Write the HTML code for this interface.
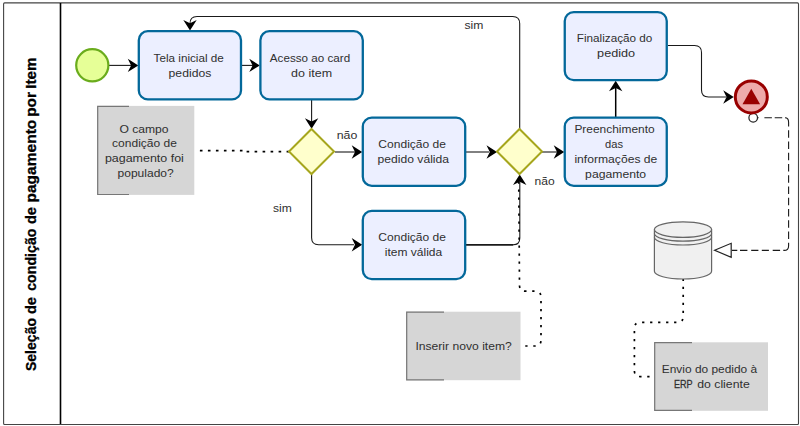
<!DOCTYPE html>
<html lang="pt-BR">
<head>
<meta charset="utf-8">
<title>Seleção de condição de pagamento por Item</title>
<style>
html,body{margin:0;padding:0;background:#fff;}
body{width:800px;height:426px;overflow:hidden;}
svg{display:block;}
text{font-family:"Liberation Sans",sans-serif;fill:#303030;}
.t{font-size:11px;text-anchor:start;}
.task{fill:#ECEFFF;stroke:#03689A;stroke-width:2.3;}
.gw{fill:#FFFFCC;stroke:#A6A61D;stroke-width:2;stroke-linejoin:miter;}
.flow{fill:none;stroke:#1a1a1a;stroke-width:1.1;}
.flowb{fill:none;stroke:#000;stroke-width:1.5;}
.assoc{fill:none;stroke:#000;stroke-width:1.7;stroke-dasharray:2.3 5.7;}
.msg{fill:none;stroke:#1a1a1a;stroke-width:1.1;}
.ann{fill:#D6D6D6;}
.br{fill:none;stroke:#777;stroke-width:1.2;}
.ah{fill:#000;}
</style>
</head>
<body>
<svg width="800" height="426" viewBox="0 0 800 426">
<rect x="0" y="0" width="800" height="426" fill="#fff"/>
<!-- pool -->
<rect x="3.6" y="2.9" width="794.9" height="421.6" fill="#fff" stroke="#444" stroke-width="1.1" rx="1"/>
<line x1="60.5" y1="3" x2="60.5" y2="424" stroke="#000" stroke-width="1.6"/>
<text transform="translate(36,0) rotate(-90)" y="0" font-size="14.3" font-weight="bold" style="fill:#000;stroke:#000;stroke-width:0.3"><tspan x="-371.1" textLength="53.2" lengthAdjust="spacingAndGlyphs">Seleção</tspan> <tspan x="-314.1" textLength="17.1" lengthAdjust="spacingAndGlyphs">de</tspan> <tspan x="-290.8" textLength="62.3" lengthAdjust="spacingAndGlyphs">condição</tspan> <tspan x="-224.1" textLength="17.1" lengthAdjust="spacingAndGlyphs">de</tspan> <tspan x="-202.5" textLength="82.8" lengthAdjust="spacingAndGlyphs">pagamento</tspan> <tspan x="-116.8" textLength="24.8" lengthAdjust="spacingAndGlyphs">por</tspan> <tspan x="-88.8" textLength="31.2" lengthAdjust="spacingAndGlyphs">Item</tspan></text>

<!-- sequence flows -->
<path class="flow" d="M109 65.4 H131"/>
<path class="ah" d="M138.3 65.4 L127.8 58.7 L131.1 65.4 L127.8 72.1 Z"/>
<path class="flow" d="M242 65.4 H253"/>
<path class="ah" d="M259.8 65.4 L249.3 58.7 L252.6 65.4 L249.3 72.1 Z"/>
<path class="flow" d="M311.6 100 V122"/>
<path class="ah" d="M311.6 128.8 L304.9 118.3 L311.6 121.6 L318.3 118.3 Z"/>
<path class="flow" d="M335 152 H355"/>
<path class="ah" d="M362.2 152 L351.7 145.3 L355 152 L351.7 158.7 Z"/>
<path class="flow" d="M466 152 H489"/>
<path class="ah" d="M497 152 L486.5 145.3 L489.8 152 L486.5 158.7 Z"/>
<path class="flow" d="M542 152 H557"/>
<path class="ah" d="M564.2 152 L553.7 145.3 L557 152 L553.7 158.7 Z"/>
<path class="flowb" d="M615.7 117 V88"/>
<path class="ah" d="M615.7 80.8 L609 91.3 L615.7 88 L622.4 91.3 Z"/>
<path class="flow" d="M668 45.5 H694.5 Q701.5 45.5 701.5 52.5 V90 Q701.5 97 708.5 97 H726"/>
<path class="ah" d="M733.7 97 L723.2 90.3 L726.5 97 L723.2 103.7 Z"/>
<path class="flow" d="M519.7 129 V23.5 Q519.7 16.5 512.7 16.5 H197 Q190 16.5 190 23.5 V24"/>
<path class="ah" d="M190 30.5 L183.3 20 L190 23.3 L196.7 20 Z"/>
<path class="flow" d="M311.6 174 V237.7 Q311.6 244.7 318.6 244.7 H354"/>
<path class="ah" d="M362.2 244.7 L351.7 238 L355 244.7 L351.7 251.4 Z"/>
<path class="flow" d="M513 244.7 Q519.8 244.7 519.8 237.9 V182"/>
<path class="flow" style="stroke-width:1.7" d="M466 244.8 H513.2"/>
<path class="ah" d="M519.7 174.5 L513 185 L519.7 181.7 L526.4 185 Z"/>
<!-- associations -->
<path class="assoc" style="stroke-dasharray:2.6 5.4" d="M289.2 151.6 H246 M242.5 150.6 H199"/>
<path class="assoc" stroke-dashoffset="3.6" d="M518.7 177 L519.5 285.2 Q519.5 291.2 525.5 291.2 H535 Q541 291.2 541 297.2 V340 Q541 346 535 346 H521"/>
<path class="assoc" d="M683.2 278.7 V316.4 Q683.2 322.4 677.2 322.4 H640.4 Q634.4 322.4 634.4 328.4 V370.6 Q634.4 376.6 640.4 376.6 H654"/>
<!-- message flow -->
<path class="msg" d="M757.6 117.7 H758.6 M764.4 117.7 H771.9 M774.7 117.7 H782.2 M785 117.7 Q788.6 117.7 788.6 122.2 V126.5 M788.6 130.3 V137.8 M788.6 141.55 V149.05 M788.6 152.8 V160.3 M788.6 164.05 V171.55 M788.6 175.3 V182.8 M788.6 186.55 V194.05 M788.6 197.8 V205.3 M788.6 209.05 V216.55 M788.6 220.3 V227.8 M788.6 231.55 V239.05 M788.6 242.8 V245.9 Q788.6 250.4 784.1 250.4 H783.3 M780.1 250.4 H772.7 M768.9 250.4 H761.8 M758.4 250.4 H751.2 M747.4 250.4 H740 M737.3 250.4 H731.8"/>
<circle cx="753.2" cy="117.8" r="4.3" fill="#fff" stroke="#222" stroke-width="1.2"/>
<path d="M714.6 250.3 L731.2 243.3 V257.3 Z" fill="#fff" stroke="#222" stroke-width="1.2"/>
<!-- events -->
<circle cx="92.3" cy="65.3" r="16.1" fill="#E6FF97" stroke="#6AAC1C" stroke-width="2.2"/>
<circle cx="751.3" cy="96.9" r="16" fill="#EEAAAA" stroke="#990000" stroke-width="3"/>
<path d="M751.3 88.7 L760.1 104.3 H742.5 Z" fill="#990000"/>
<!-- tasks -->
<rect class="task" x="138.8" y="31.2" width="102.2" height="68.2" rx="9"/>

<rect class="task" x="260.4" y="31.2" width="102.4" height="68.2" rx="9"/>

<rect class="task" x="362.8" y="117.6" width="102.4" height="68.2" rx="9"/>

<rect class="task" x="362.8" y="210.9" width="102.4" height="68.2" rx="9"/>

<rect class="task" x="564.75" y="117.6" width="102" height="68.2" rx="9"/>

<rect class="task" x="564.75" y="12.1" width="102" height="68" rx="9"/>

<!-- gateways -->
<path class="gw" d="M311.5 129 L334 151.5 L311.5 174 L289 151.5 Z"/>

<path class="gw" d="M519.5 129 L542 151.5 L519.5 174 L497 151.5 Z"/>

<!-- labels -->
<!-- annotations -->
<rect class="ann" x="97" y="105.9" width="97.3" height="89"/>
<path class="br" d="M129 106.3 H97.7 V194.5 H129"/>

<rect class="ann" x="406" y="311.7" width="114.5" height="68.5"/>
<path class="br" d="M444 312.1 H406.7 V379.8 H444"/>

<rect class="ann" x="654" y="342.3" width="114" height="68.5"/>
<path class="br" d="M692 342.7 H654.7 V410.4 H692"/>

<!-- data store -->
<path d="M654.4 229.6 V271.2 A28.6 7.8 0 0 0 711.6 271.2 V229.6" fill="#F0F0F0" stroke="#666" stroke-width="1.2"/>
<ellipse cx="683" cy="229.6" rx="28.6" ry="7.8" fill="#F0F0F0" stroke="#666" stroke-width="1.2"/>
<path d="M654.4 233.4 A28.6 7.8 0 0 0 711.6 233.4 M654.4 237.2 A28.6 7.8 0 0 0 711.6 237.2" fill="none" stroke="#666" stroke-width="1.2"/>
<!-- text -->
<text class="t" x="153.6" y="61.5" textLength="70.23" lengthAdjust="spacingAndGlyphs">Tela inicial de</text>
<text class="t" x="168.6" y="76.5" textLength="42.7" lengthAdjust="spacingAndGlyphs">pedidos</text>
<text class="t" x="269.85" y="61.5" textLength="80.27" lengthAdjust="spacingAndGlyphs">Acesso ao card</text>
<text class="t" x="291.1" y="76.5" textLength="40.94" lengthAdjust="spacingAndGlyphs">do item</text>
<text class="t" x="378.35" y="148.4" textLength="67.63" lengthAdjust="spacingAndGlyphs">Condição de</text>
<text class="t" x="377.6" y="163.4" textLength="71.43" lengthAdjust="spacingAndGlyphs">pedido válida</text>
<text class="t" x="378.35" y="241.4" textLength="67.63" lengthAdjust="spacingAndGlyphs">Condição de</text>
<text class="t" x="384.85" y="256.4" textLength="57.29" lengthAdjust="spacingAndGlyphs">item válida</text>
<text class="t" x="574.4" y="132.9" textLength="80.23" lengthAdjust="spacingAndGlyphs">Preenchimento</text>
<text class="t" x="605.1" y="147.9" textLength="17.99" lengthAdjust="spacingAndGlyphs">das</text>
<text class="t" x="574.4" y="162.9" textLength="82.93" lengthAdjust="spacingAndGlyphs">informações de</text>
<text class="t" x="585.1" y="177.9" textLength="61.03" lengthAdjust="spacingAndGlyphs">pagamento</text>
<text class="t" x="576.85" y="42" textLength="75.48" lengthAdjust="spacingAndGlyphs">Finalização do</text>
<text class="t" x="597.1" y="57" textLength="38.04" lengthAdjust="spacingAndGlyphs">pedido</text>
<text class="t" x="119.4" y="132.5" textLength="49.23" lengthAdjust="spacingAndGlyphs">O campo</text>
<text class="t" x="112.1" y="147.3" textLength="64.83" lengthAdjust="spacingAndGlyphs">condição de</text>
<text class="t" x="104.9" y="162.2" textLength="79" lengthAdjust="spacingAndGlyphs">pagamento foi</text>
<text class="t" x="117.5" y="177.1" textLength="56.23" lengthAdjust="spacingAndGlyphs">populado?</text>
<text class="t" x="415.4" y="349.5" textLength="96.43" lengthAdjust="spacingAndGlyphs">Inserir novo item?</text>
<text class="t" x="661.8" y="372.6" textLength="95.34" lengthAdjust="spacingAndGlyphs">Envio do pedido à</text>
<text class="t" y="387.7"><tspan x="673.9" textLength="18.48" lengthAdjust="spacingAndGlyphs" style="stroke:#303030;stroke-width:0.3">ERP</tspan> <tspan x="697.2" textLength="52.53" lengthAdjust="spacingAndGlyphs">do cliente</tspan></text>
<text class="t" x="336.7" y="138.6" textLength="20.63" lengthAdjust="spacingAndGlyphs">não</text>
<text class="t" x="534.6" y="184.7" textLength="20.13" lengthAdjust="spacingAndGlyphs">não</text>
<text class="t" x="464.4" y="28.8" textLength="18.88" lengthAdjust="spacingAndGlyphs">sim</text>
<text class="t" x="273" y="211.5" textLength="18.78" lengthAdjust="spacingAndGlyphs">sim</text>
</svg>
</body>
</html>
